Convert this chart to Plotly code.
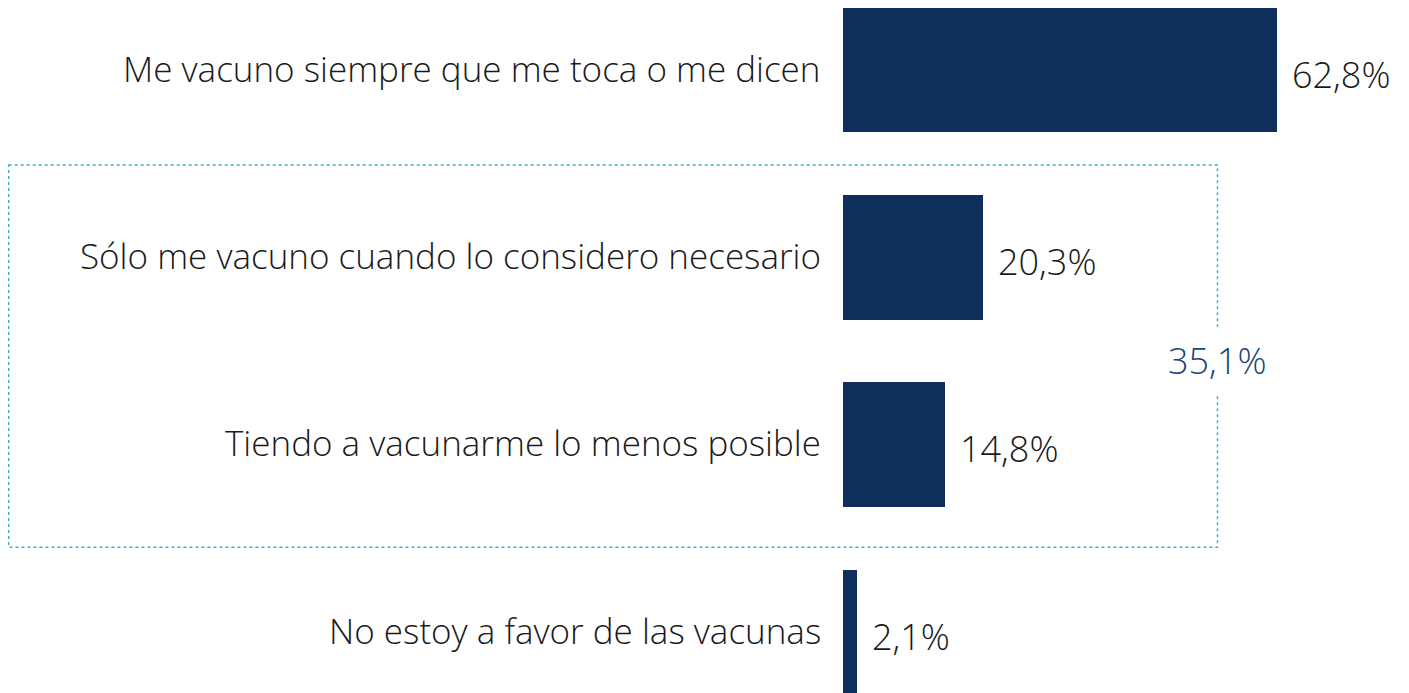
import plotly.graph_objects as go

categories = [
    "Me vacuno siempre que me toca o me dicen",
    "Sólo me vacuno cuando lo considero necesario",
    "Tiendo a vacunarme lo menos posible",
    "No estoy a favor de las vacunas",
]
values = [62.8, 20.3, 14.8, 2.1]
group_total_label = "35,1%"

BAR_COLOR = "#0E2F5B"
TEXT_COLOR = "#1A1A1A"
GROUP_COLOR = "#1A4576"
BOX_COLOR = "#4BACC6"
FONT = "Open Sans"

fig = go.Figure()
fig.add_trace(go.Bar(
    x=values,
    y=categories,
    orientation="h",
    marker=dict(color=BAR_COLOR, line=dict(width=0)),
    width=0.665,
    hoverinfo="skip",
))

for cat, v in zip(categories, values):
    fig.add_annotation(
        x=0, y=cat, xref="x", yref="y", text=cat, showarrow=False,
        xanchor="right", yanchor="middle", xshift=-20, yshift=2,
        font=dict(family=FONT, size=35, color=TEXT_COLOR, weight=300),
    )
    fig.add_annotation(
        x=v, y=cat, xref="x", yref="y",
        text=f"{v:.1f}%".replace(".", ","), showarrow=False,
        xanchor="left", yanchor="middle", xshift=13, yshift=-4,
        font=dict(family=FONT, size=36, color=TEXT_COLOR, weight=300),
    )

# dotted box grouping the two middle categories
fig.add_shape(
    type="rect", xref="x", yref="y",
    x0=-120.7, x1=54.2, y0=0.507, y1=2.547,
    line=dict(color=BOX_COLOR, width=1.5, dash="dot"),
    fillcolor="rgba(0,0,0,0)", layer="below",
)
fig.add_annotation(
    x=54.2, y=1.55, xref="x", yref="y", text=group_total_label, showarrow=False,
    xanchor="center", yanchor="middle", bgcolor="white", borderpad=8,
    font=dict(family=FONT, size=36, color=GROUP_COLOR, weight=300),
)

fig.update_layout(
    width=1409, height=693,
    margin=dict(l=0, r=0, t=0, b=0),
    paper_bgcolor="white", plot_bgcolor="white",
    showlegend=False,
    bargap=0,
    xaxis=dict(range=[-120.8, 83.07], visible=False, fixedrange=True),
    yaxis=dict(
        categoryorder="array", categoryarray=categories,
        range=[3.368, -0.331], visible=False, fixedrange=True,
    ),
)

fig.write_html("out.html")
